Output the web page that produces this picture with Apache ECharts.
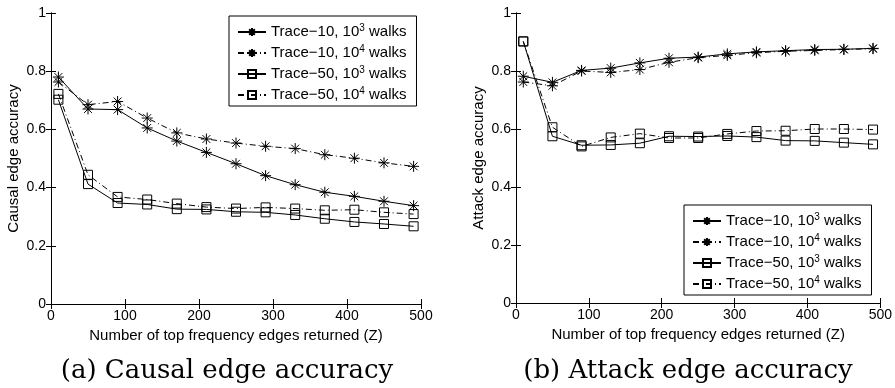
<!DOCTYPE html>
<html>
<head>
<meta charset="utf-8">
<script src="https://cdn.jsdelivr.net/npm/echarts@6/dist/echarts.min.js"></script>
<style>
  html, body { margin: 0; padding: 0; background: #fff; }
  #chart { width: 895px; height: 388px; }
</style>
</head>
<body>
<div id="chart"></div>
<script>
// Number of top frequency edges returned (Z)
const zValues = [10, 50, 90, 130, 170, 210, 250, 290, 330, 370, 410, 450, 490];

// (a) Causal edge accuracy
const causalT10w3 = [0.780, 0.670, 0.668, 0.605, 0.560, 0.521, 0.482, 0.441, 0.410, 0.384, 0.370, 0.353, 0.338];
const causalT10w4 = [0.763, 0.685, 0.696, 0.639, 0.588, 0.567, 0.553, 0.542, 0.534, 0.513, 0.501, 0.485, 0.473];
const causalT50w3 = [0.702, 0.412, 0.347, 0.342, 0.326, 0.325, 0.317, 0.315, 0.306, 0.293, 0.282, 0.275, 0.267];
const causalT50w4 = [0.722, 0.444, 0.368, 0.359, 0.345, 0.333, 0.328, 0.332, 0.328, 0.322, 0.324, 0.315, 0.309];

// (b) Attack edge accuracy
const attackT10w3 = [0.782, 0.761, 0.802, 0.810, 0.828, 0.844, 0.848, 0.859, 0.866, 0.870, 0.874, 0.875, 0.878];
const attackT10w4 = [0.762, 0.749, 0.800, 0.795, 0.805, 0.830, 0.846, 0.854, 0.863, 0.868, 0.871, 0.874, 0.877];
const attackT50w3 = [0.902, 0.575, 0.544, 0.545, 0.551, 0.575, 0.574, 0.576, 0.572, 0.560, 0.559, 0.553, 0.547];
const attackT50w4 = [0.902, 0.606, 0.540, 0.571, 0.584, 0.569, 0.569, 0.583, 0.593, 0.594, 0.600, 0.600, 0.598];

const seriesNames = ['Trace−10, 10^3 walks', 'Trace−10, 10^4 walks', 'Trace−50, 10^3 walks', 'Trace−50, 10^4 walks'];
const xTicks = [0, 100, 200, 300, 400, 500];
const yTicks = [0, 0.2, 0.4, 0.6, 0.8, 1];
const xTitle = 'Number of top frequency edges returned (Z)';
const yTitles = ['Causal edge accuracy', 'Attack edge accuracy'];
const captions = ['(a) Causal edge accuracy', '(b) Attack edge accuracy'];

const SANS = '"Liberation Sans", Arial, Helvetica, sans-serif';
const SERIF = '"DejaVu Serif", "Liberation Serif", serif';

// asterisk marker drawn as strokes
const STAR = 'path://M0,-10L0,10M-10,0L10,0M-7.07,-7.07L7.07,7.07M-7.07,7.07L7.07,-7.07';
const DASHDOT = [6, 3, 1, 3];

const styles = [
  { symbol: STAR, dash: 'solid' },
  { symbol: STAR, dash: DASHDOT },
  { symbol: 'rect', dash: 'solid' },
  { symbol: 'rect', dash: DASHDOT }
];

const grids = [
  { left: 51, right: 474, top: 13, bottom: 84 },
  { left: 516, right: 11, top: 13, bottom: 85 }
];

function pairs(vals) {
  return zValues.map((z, i) => [z, vals[i]]);
}

const panelData = [
  [causalT10w3, causalT10w4, causalT50w3, causalT50w4],
  [attackT10w3, attackT10w4, attackT50w3, attackT50w4]
];

const xAxes = [], yAxes = [], series = [];
grids.forEach((g, gi) => {
  // bottom and top x axes (top one only closes the box)
  xAxes.push({
    gridIndex: gi, type: 'value', min: xTicks[0], max: xTicks[xTicks.length - 1], interval: 100,
    axisLine: { lineStyle: { color: '#000', width: 1 } },
    axisTick: { inside: true, length: 5, lineStyle: { color: '#000' } },
    axisLabel: { color: '#000', fontFamily: SANS, fontSize: 14, margin: 5 },
    splitLine: { show: false },
    name: xTitle, nameLocation: 'middle', nameGap: 20,
    nameTextStyle: { color: '#000', fontFamily: SANS, fontSize: 15 }
  });
  xAxes.push({
    gridIndex: gi, type: 'value', min: 0, max: 500, interval: 100, position: 'top',
    axisLine: { lineStyle: { color: '#000', width: 1 } },
    axisTick: { inside: true, length: 5, lineStyle: { color: '#000' } },
    axisLabel: { show: false }, splitLine: { show: false }
  });
  yAxes.push({
    gridIndex: gi, type: 'value', min: yTicks[0], max: yTicks[yTicks.length - 1], interval: 0.2,
    axisLine: { show: true, lineStyle: { color: '#000', width: 1 } },
    axisTick: { show: true, inside: true, length: 5, lineStyle: { color: '#000' } },
    axisLabel: { color: '#000', fontFamily: SANS, fontSize: 14, margin: 5 },
    splitLine: { show: false },
    name: yTitles[gi], nameLocation: 'middle', nameGap: 30,
    nameTextStyle: { color: '#000', fontFamily: SANS, fontSize: 15 }
  });
  yAxes.push({
    gridIndex: gi, type: 'value', min: 0, max: 1, interval: 0.2, position: 'right',
    axisLine: { show: true, lineStyle: { color: '#000', width: 1 } },
    axisTick: { show: true, inside: true, length: 5, lineStyle: { color: '#000' } },
    axisLabel: { show: false }, splitLine: { show: false }
  });
  panelData[gi].forEach((vals, si) => {
    const st = styles[si];
    series.push({
      name: seriesNames[si],
      type: 'line',
      xAxisIndex: gi * 2, yAxisIndex: gi * 2,
      data: pairs(vals),
      symbol: st.symbol,
      symbolSize: st.symbol === 'rect' ? 9 : 11,
      showAllSymbol: true,
      lineStyle: { color: '#000', width: 1, type: st.dash },
      itemStyle: { color: 'rgba(0,0,0,0)', borderColor: '#000', borderWidth: 1 },
      emphasis: { disabled: true },
      animation: false
    });
  });
});

function legendFor(pos) {
  return Object.assign({
    data: seriesNames.map(n => ({ name: n })),
    orient: 'vertical',
    backgroundColor: '#fff',
    borderColor: '#000', borderWidth: 1, borderRadius: 0,
    padding: [7, 10, 2, 8],
    itemWidth: 28, itemHeight: 10, itemGap: 3,
    selectedMode: false,
    formatter: n => n.replace(/\^(\d)/, '{sup|$1}'),
    textStyle: {
      color: '#000', fontFamily: SANS, fontSize: 15, lineHeight: 18,
      rich: { sup: { fontFamily: SANS, fontSize: 10, lineHeight: 10, verticalAlign: 'top', color: '#000' } }
    }
  }, pos);
}

const chart = echarts.init(document.getElementById('chart'), null, { renderer: 'canvas' });
chart.setOption({
  backgroundColor: '#fff',
  animation: false,
  grid: grids,
  xAxis: xAxes,
  yAxis: yAxes,
  series: series,
  legend: [
    legendFor({ left: 229, top: 16 }),
    legendFor({ left: 684, top: 205 })
  ],
  title: [
    { text: captions[0], left: 222, top: 353, textAlign: 'center',
      textStyle: { fontFamily: SERIF, fontSize: 26, fontWeight: 'normal', color: '#000' } },
    { text: captions[1], left: 683, top: 353, textAlign: 'center',
      textStyle: { fontFamily: SERIF, fontSize: 26, fontWeight: 'normal', color: '#000' } }
  ]
});
</script>
</body>
</html>
